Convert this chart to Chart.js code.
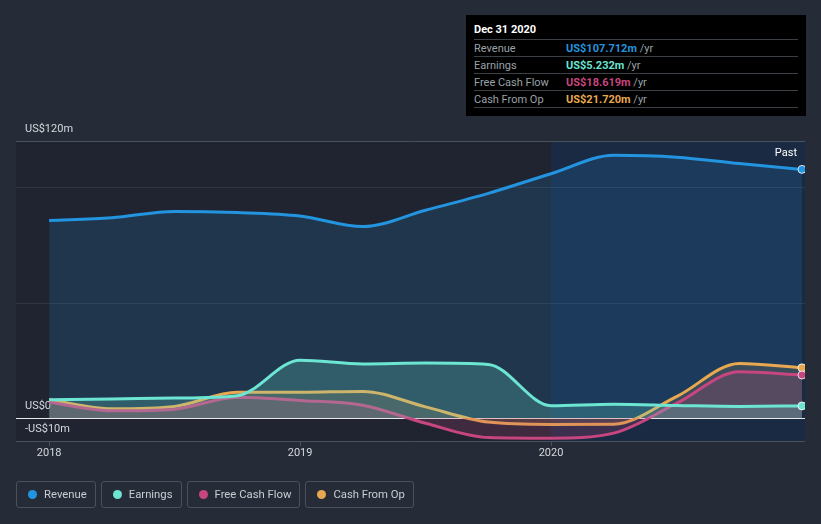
<!DOCTYPE html>
<html>
<head>
<meta charset="utf-8">
<script src="https://cdn.jsdelivr.net/npm/chart.js@4"></script>
<style>
  html, body { margin: 0; padding: 0; background: #262c37; }
  body { width: 821px; height: 524px; position: relative; overflow: hidden; font-family: Roboto, "Open Sans", sans-serif; }
  #wrap { position: absolute; left: 0; top: 0; width: 821px; height: 524px; }
  .tip { position: absolute; left: 466px; top: 15px; width: 340px; height: 101px; background: #000; color: #fff; font-size: 11px; }
  .tip .ttl { position: absolute; left: 8px; top: 8px; font-weight: bold; font-size: 11px; }
  .tip .row { position: absolute; left: 8px; width: 324px; height: 17px; border-top: 1px solid #3b3f46; }
  .tip .row > span { position: absolute; top: 2px; white-space: nowrap; }
  .tip .lab { left: 0; color: #9aa0a8; }
  .tip .val { left: 92px; font-weight: bold; }
  .tip .yr { color: #9aa0a8; font-weight: normal; }
  .legend { position: absolute; left: 16px; top: 481px; display: flex; gap: 5px; }
  .legend div { height: 25px; border: 1px solid #4a505c; border-radius: 3px; color: #c9cdd3; font-size: 11.3px; line-height: 25px; padding: 0 8px 0 27px; position: relative; }
  .legend div i { position: absolute; left: 11px; top: 8px; width: 9px; height: 9px; border-radius: 50%; }
</style>
</head>
<body>
<div id="wrap"><canvas id="c" width="821" height="524"></canvas></div>
<div class="tip">
  <div class="ttl">Dec 31 2020</div>
  <div class="row" style="top:24px"><span class="lab">Revenue</span><span class="val" style="color:#2394df">US$107.712m <span class="yr">/yr</span></span></div>
  <div class="row" style="top:41px"><span class="lab">Earnings</span><span class="val" style="color:#6ce5d3">US$5.232m <span class="yr">/yr</span></span></div>
  <div class="row" style="top:58px"><span class="lab">Free Cash Flow</span><span class="val" style="color:#c8467f">US$18.619m <span class="yr">/yr</span></span></div>
  <div class="row" style="top:75px"><span class="lab">Cash From Op</span><span class="val" style="color:#e8a850">US$21.720m <span class="yr">/yr</span></span></div>
  <div class="row" style="top:92px;height:0"></div>
</div>
<div class="legend">
  <div><i style="background:#2394df"></i>Revenue</div>
  <div><i style="background:#6ce5d3"></i>Earnings</div>
  <div><i style="background:#c8467f"></i>Free Cash Flow</div>
  <div><i style="background:#e8a850"></i>Cash From Op</div>
</div>
<script>
// quarter ends, as fractional years (Dec 31 2017 = 2018.0)
const quarters = [2018, 2018.25, 2018.5, 2018.75, 2019, 2019.25, 2019.5, 2019.75, 2020, 2020.25, 2020.5, 2020.75, 2021];

// values in US$ millions
const revenue  = [85.5, 86.7, 89.5, 89.0, 87.5, 82.9, 90.0, 97.3, 105.8, 113.8, 113.0, 110.2, 107.7];
const earnings = [7.9, 8.2, 8.6, 9.6, 25.0, 23.4, 23.8, 23.2, 5.3, 5.9, 5.4, 5.0, 5.2];
const fcf      = [6.8, 3.1, 3.8, 9.0, 7.6, 5.5, -2.3, -8.5, -8.8, -6.6, 6.3, 20.0, 18.6];
const cfo      = [7.9, 4.0, 5.0, 11.1, 11.1, 11.5, 4.8, -1.8, -2.8, -2.7, 9.2, 23.6, 21.7];

const xTicks = [2018, 2019, 2020];
const yTicks = [-10, 0, 50, 100, 120];
const yLabels = { '-10': '-US$10m', '0': 'US$0', '120': 'US$120m' };
const pastStart = 2020;

function pts(vals) {
  return vals.map((v, i) => ({ x: quarters[i], y: v }));
}

function endRadius() {
  return quarters.map((_, i) => (i === quarters.length - 1 ? 4 : 0));
}

function series(label, vals, color, fill) {
  return {
    label,
    data: pts(vals),
    borderColor: color,
    borderWidth: 3,
    backgroundColor: fill,
    fill: { target: 'origin', above: fill, below: fill },
    cubicInterpolationMode: 'monotone',
    pointRadius: endRadius(),
    pointBackgroundColor: color,
    pointBorderColor: 'rgba(255,255,255,0.8)',
    pointBorderWidth: 1
  };
}

// background panels, "Past" label and y labels
const decor = {
  id: 'decor',
  beforeDatasetsDraw(chart) {
    const { ctx, chartArea: a, scales } = chart;
    const xp = scales.x.getPixelForValue(pastStart);
    ctx.save();
    ctx.fillStyle = '#1f2430';
    ctx.fillRect(a.left, a.top, xp - a.left, a.bottom - a.top);
    ctx.fillStyle = '#1b2a43';
    ctx.fillRect(xp, a.top, a.right - xp, a.bottom - a.top);
    yTicks.forEach(v => {
      const y = Math.round(scales.y.getPixelForValue(v)) + 0.5;
      ctx.strokeStyle = v === 0 ? '#e8e8ea' : (v === -10 || v === 120 ? '#4a505c' : 'rgba(255,255,255,0.08)');
      ctx.lineWidth = 1;
      ctx.beginPath(); ctx.moveTo(a.left, y); ctx.lineTo(a.right, y); ctx.stroke();
    });
    ctx.font = '11px Roboto, sans-serif';
    ctx.fillStyle = '#d5d8dd';
    ctx.textBaseline = 'middle';
    ctx.textAlign = 'left';
    Object.keys(yLabels).forEach(k => {
      ctx.fillText(yLabels[k], 25, scales.y.getPixelForValue(Number(k)) - 12);
    });
    ctx.textAlign = 'right';
    ctx.fillStyle = '#ffffff';
    ctx.fillText('Past', a.right - 8, a.top + 12);
    ctx.restore();
  }
};

new Chart(document.getElementById('c'), {
  type: 'line',
  data: {
    datasets: [
      series('Earnings', earnings, '#6ce5d3', 'rgba(108,229,211,0.22)'),
      series('Free Cash Flow', fcf, '#c8467f', 'rgba(200,70,127,0.2)'),
      series('Cash From Op', cfo, '#e8a850', 'rgba(232,168,80,0.15)'),
      series('Revenue', revenue, '#2394df', 'rgba(35,148,223,0.16)')
    ]
  },
  options: {
    responsive: false,
    animation: false,
    layout: { padding: { left: 16, right: 16, top: 141, bottom: 59 } },
    plugins: { legend: { display: false }, tooltip: { enabled: false } },
    scales: {
      x: {
        type: 'linear',
        min: 2017.868,
        max: 2021.012,
        afterBuildTicks: s => { s.ticks = xTicks.map(v => ({ value: v })); },
        afterFit: s => { s.height = 24; },
        grid: { drawOnChartArea: false, tickLength: 5, tickColor: '#4a505c' },
        border: { display: false },
        ticks: { color: '#d5d8dd', font: { size: 11, family: 'Roboto' }, padding: 1, maxRotation: 0, callback: v => String(v) }
      },
      y: {
        min: -10,
        max: 120,
        afterBuildTicks: s => { s.ticks = yTicks.map(v => ({ value: v })); },
        afterFit: s => { s.width = 0; },
        grid: { display: false },
        border: { display: false },
        ticks: { display: false }
      }
    }
  },
  plugins: [decor]
});
</script>
</body>
</html>
